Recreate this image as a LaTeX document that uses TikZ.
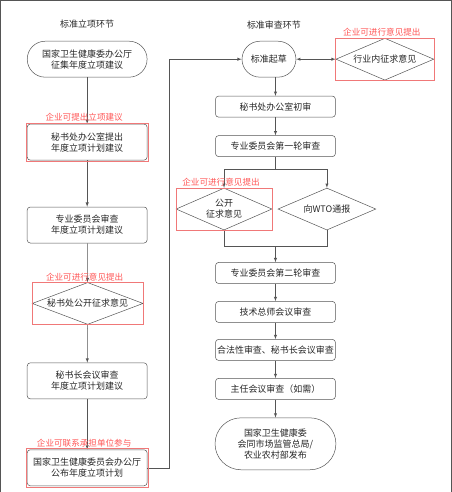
\documentclass[tikz,border=0pt]{standalone}
\usepackage{fontspec}
\setmainfont{Noto Sans CJK SC}
\usepackage{tikz}
\usetikzlibrary{shapes.geometric}
\usetikzlibrary{fit}
\definecolor{linegray}{RGB}{85,85,85}
\definecolor{notered}{RGB}{240,120,120}
\definecolor{notetext}{RGB}{255,85,85}

\begin{document}
\begin{tikzpicture}
    [
    x=1pt, y=-1pt,
    every node/.style={font=\fontsize{9}{11}\selectfont, text=black!85, align=center},
    every path/.style={draw=linegray, line width=0.5pt},
    stepbox/.style={rectangle,draw,rounded corners=3pt,minimum width=120pt,inner sep=0pt},
    tall/.style={minimum height=36pt},
    flat/.style={minimum height=21pt},
    term/.style={rectangle,draw,inner sep=0pt},
    choice/.style={diamond,draw,aspect=2.5,inner sep=0pt,minimum width=#1,minimum height=42pt},
    note/.style={rectangle,draw=notered,inner sep=1pt},
    notelabel/.style={font=\fontsize{8.6}{10}\selectfont,text=notetext,inner sep=1pt,xshift=-3pt},
    ]
    \useasboundingbox (0,0) rectangle (451,492);

    % left column
    \node (t1) at (87,24) {标准立项环节};
    \node (lx) at (87,59) [term, rounded corners=18pt, minimum width=120pt, minimum height=36pt] {国家卫生健康委办公厅\\征集年度立项建议};
    \node (b2) at (87,142) [stepbox, tall] {秘书处办公室提出\\年度立项计划建议};
    \node (b3) at (87,225) [stepbox, tall] {专业委员会审查\\年度立项计划建议};
    \node (d1) at (87.5,303.5) [choice=111pt] {秘书处公开征求意见};
    \node (b4) at (87,381) [stepbox, tall] {秘书长会议审查\\年度立项计划建议};
    \node (b5) at (87,468) [stepbox, tall] {国家卫生健康委员会办公厅\\公布年度立项计划};
    \draw [-latex] (lx) to (b2);
    \draw [-latex] (b2) to (b3);
    \draw [-latex] (b3) to (d1);
    \draw [-latex] (d1) to (b4);
    \draw [-latex] (b4) to (b5);

    % right column
    \node (t2) at (274,25) {标准审查环节};
    \node (qc) at (269,59) [term, rounded corners=18pt, minimum width=54pt, minimum height=36pt] {标准起草};
    \node (hy) at (385,59) [choice=98pt] {行业内征求意见};
    \node (cs) at (275.5,106.5) [stepbox, flat] {秘书处办公室初审};
    \node (r1) at (275.5,146) [stepbox, flat] {专业委员会第一轮审查};
    \node (gk) at (224,209) [choice=96pt, aspect=2.4] {公开\\征求意见};
    \node (wto) at (327,209) [choice=98pt] {向WTO通报};
    \node (r2) at (275.5,273) [stepbox, flat] {专业委员会第二轮审查};
    \node (js) at (275.5,312) [stepbox, flat] {技术总师会议审查};
    \node (hf) at (275.5,350) [stepbox, flat] {合法性审查、秘书长会议审查};
    \node (zr) at (275.5,389) [stepbox, flat] {主任会议审查（如需）};
    \node (fb) at (275.5,444) [term, rounded corners=26pt, minimum width=121pt, minimum height=52pt] {国家卫生健康委\\会同市场监管总局/\\农业农村部发布};

    \coordinate (turn) at (169,300);
    \coordinate (sp) at (275.5,169);
    \coordinate (mg) at (275.5,246);
    \draw [-latex] (b5.east) -| (turn) |- (qc.west);
    \draw [latex-latex] (qc) to (hy);
    \draw [-latex] (qc.south -| cs.north) to (cs.north);
    \draw [-latex] (cs) to (r1);
    \draw (r1.south) to (sp);
    \draw [-latex] (sp) -| (gk.north);
    \draw [-latex] (sp) -| (wto.north);
    \draw (gk.south) |- (mg);
    \draw (wto.south) |- (mg);
    \draw [-latex] (mg) to (r2);
    \draw [-latex] (r2) to (js);
    \draw [-latex] (js) to (hf);
    \draw [-latex] (hf) to (zr);
    \draw [-latex] (zr) to (fb);

    % notes for companies
    \node (n1) [note, fit=(b2), label={[notelabel]above:企业可提出立项建议}] {};
    \node (n2) [note, fit=(d1), inner sep=0pt, label={[notelabel]above:企业可进行意见提出}] {};
    \node (n3) [note, fit=(b5), label={[notelabel]above:企业可联系承担单位参与}] {};
    \node (n4) [note, fit=(hy), inner sep=0pt, label={[notelabel]above:企业可进行意见提出}] {};
    \node (n5) [note, fit=(gk), inner sep=0pt, label={[notelabel]above:企业可进行意见提出}] {};
\end{tikzpicture}
\end{document}
